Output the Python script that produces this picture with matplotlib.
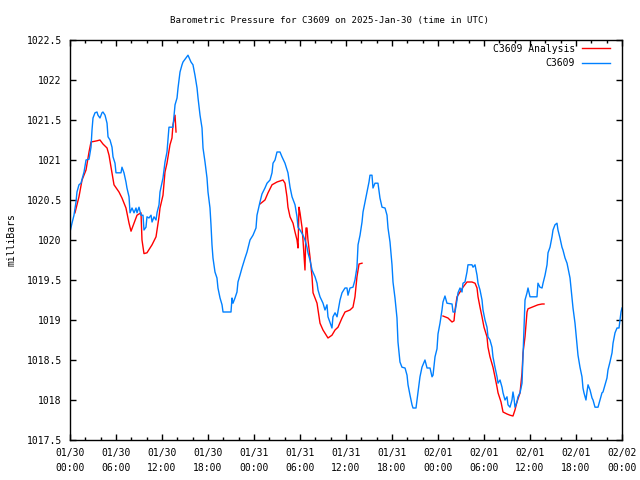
import matplotlib
matplotlib.use('Agg')
import matplotlib.pyplot as plt

# hours since 2025-01-30 00:00 UTC, pressure in mb
obs_hours = [0.0, 0.26, 0.52, 0.78, 0.91, 1.17, 1.43, 1.83, 2.09, 2.48, 2.74, 2.87, 3.0, 3.26, 3.52, 3.65,
             3.91, 4.17, 4.3, 4.57, 4.83, 4.96, 5.22, 5.48, 5.61, 5.87, 6.0, 6.65, 6.78, 7.04, 7.3, 7.43,
             7.7, 7.83, 8.09, 8.35, 8.61, 8.74, 9.0, 9.26, 9.52, 9.65, 9.91, 10.04, 10.3, 10.57, 10.7,
             10.96, 11.22, 11.35, 11.61, 11.74, 12.13, 12.39, 12.65, 12.91, 13.43, 13.7, 13.96, 14.09,
             14.35, 14.61, 14.74, 15.13, 15.39, 15.78, 16.04, 16.3, 16.57, 16.7, 16.96, 17.22, 17.35,
             17.61, 17.87, 18.0, 18.26, 18.39, 18.52, 18.65, 18.91, 19.17, 19.3, 19.57, 19.83, 19.96,
             21.0, 21.13, 21.26, 21.52, 21.78, 21.91, 22.17, 22.43, 22.83, 23.09, 23.48, 23.87, 24.26,
             24.39, 24.78, 25.04, 25.43, 25.7, 26.09, 26.35, 26.48, 26.74, 27.0, 27.39, 27.65, 28.04,
             28.43, 28.7, 28.96, 29.35, 29.61, 29.74, 30.0, 30.39, 30.65, 30.91, 31.04, 31.3, 31.57,
             31.96, 32.22, 32.35, 32.61, 33.0, 33.26, 33.52, 33.65, 34.17, 34.3, 34.57, 34.83, 35.22,
             35.48, 35.87, 36.13, 36.26, 36.52, 36.91, 37.17, 37.43, 37.57, 37.83, 38.09, 38.22, 38.48,
             38.74, 39.0, 39.13, 39.39, 39.52, 39.78, 40.17, 40.43, 40.7, 41.09, 41.35, 41.48, 41.74,
             42.0, 42.13, 42.39, 42.65, 42.78, 43.04, 43.3, 43.7, 43.96, 44.09, 44.35, 44.61, 44.74,
             45.13, 45.39, 45.65, 45.91, 46.3, 46.57, 46.96, 47.22, 47.35, 47.61, 47.87, 48.0, 48.26,
             48.52, 48.65, 48.91, 49.17, 49.83, 49.96, 50.22, 50.48, 50.61, 50.87, 51.13, 51.26, 51.52,
             51.78, 51.91, 52.43, 52.57, 52.83, 53.09, 53.22, 53.48, 53.74, 53.87, 54.13, 54.39, 54.52,
             54.78, 55.04, 55.17, 55.43, 55.7, 55.83, 56.09, 56.35, 56.48, 56.74, 57.0, 57.13, 57.39,
             57.65, 57.78, 57.91, 58.04, 58.3, 58.43, 58.7, 58.96, 59.09, 59.22, 59.35, 59.61, 59.74,
             60.0, 60.91, 61.04, 61.3, 61.57, 61.7, 61.96, 62.22, 62.35, 62.61, 62.87, 63.0, 63.26,
             63.52, 63.65, 63.91, 64.17, 64.3, 64.57, 64.83, 64.96, 65.22, 65.48, 65.61, 65.87, 66.13,
             66.26, 66.52, 66.78, 66.91, 67.04, 67.3, 67.43, 67.57, 67.83, 68.09, 68.22, 68.48, 68.87,
             69.13, 69.39, 69.52, 69.78, 70.04, 70.17, 70.43, 70.7, 70.83, 71.09, 71.35, 71.61, 71.74,
             71.87, 72.0]
obs_mb = [1020.1, 1020.21, 1020.31, 1020.475, 1020.6, 1020.69, 1020.71, 1020.85, 1021.0, 1021.01, 1021.16,
          1021.375, 1021.525, 1021.59, 1021.6, 1021.56, 1021.525, 1021.59, 1021.6, 1021.56, 1021.46,
          1021.29, 1021.25, 1021.16, 1021.04, 1020.96, 1020.84, 1020.84, 1020.91, 1020.84, 1020.725,
          1020.65, 1020.54, 1020.34, 1020.4, 1020.34, 1020.4, 1020.34, 1020.41, 1020.31, 1020.31,
          1020.125, 1020.16, 1020.29, 1020.275, 1020.31, 1020.225, 1020.29, 1020.25, 1020.34, 1020.44,
          1020.6, 1020.775, 1020.975, 1021.1, 1021.41, 1021.41, 1021.69, 1021.775, 1021.9, 1022.1,
          1022.19, 1022.225, 1022.275, 1022.31, 1022.225, 1022.19, 1022.06, 1021.9, 1021.775, 1021.56,
          1021.4, 1021.15, 1020.975, 1020.775, 1020.6, 1020.4, 1020.19, 1019.94, 1019.775, 1019.6,
          1019.525, 1019.4, 1019.275, 1019.19, 1019.1, 1019.1, 1019.275, 1019.21, 1019.275, 1019.35,
          1019.475, 1019.56, 1019.65, 1019.775, 1019.85, 1020.0, 1020.06, 1020.15, 1020.31, 1020.475,
          1020.575, 1020.65, 1020.71, 1020.75, 1020.84, 1020.96, 1021.0, 1021.1, 1021.1, 1021.04,
          1020.96, 1020.84, 1020.66, 1020.54, 1020.44, 1020.29, 1020.16, 1020.125, 1020.06, 1020.0,
          1019.91, 1019.84, 1019.75, 1019.625, 1019.54, 1019.46, 1019.375, 1019.29, 1019.21, 1019.125,
          1019.19, 1019.04, 1018.9, 1019.04, 1019.09, 1019.04, 1019.25, 1019.34, 1019.4, 1019.4,
          1019.31, 1019.4, 1019.41, 1019.5, 1019.66, 1019.94, 1020.06, 1020.225, 1020.35, 1020.475,
          1020.6, 1020.725, 1020.81, 1020.81, 1020.65, 1020.71, 1020.71, 1020.525, 1020.41, 1020.4,
          1020.31, 1020.15, 1019.975, 1019.69, 1019.475, 1019.275, 1019.025, 1018.725, 1018.475,
          1018.41, 1018.4, 1018.31, 1018.19, 1018.06, 1017.94, 1017.9, 1017.9, 1018.09, 1018.29,
          1018.41, 1018.5, 1018.4, 1018.4, 1018.29, 1018.31, 1018.54, 1018.64, 1018.825, 1018.96,
          1019.125, 1019.225, 1019.3, 1019.21, 1019.2, 1019.1, 1019.1, 1019.25, 1019.34, 1019.4,
          1019.35, 1019.46, 1019.475, 1019.6, 1019.69, 1019.69, 1019.66, 1019.69, 1019.56, 1019.46,
          1019.375, 1019.25, 1019.125, 1019.0, 1018.91, 1018.79, 1018.75, 1018.66, 1018.54, 1018.41,
          1018.29, 1018.21, 1018.25, 1018.16, 1018.09, 1018.0, 1018.04, 1017.94, 1017.91, 1018.0,
          1018.1, 1018.025, 1017.91, 1017.975, 1018.04, 1018.09, 1018.21, 1018.56, 1018.875, 1019.25,
          1019.34, 1019.4, 1019.29, 1019.29, 1019.46, 1019.41, 1019.4, 1019.46, 1019.56, 1019.69,
          1019.84, 1019.91, 1020.04, 1020.125, 1020.19, 1020.21, 1020.125, 1020.025, 1019.91, 1019.875,
          1019.775, 1019.71, 1019.65, 1019.525, 1019.275, 1019.15, 1018.96, 1018.69, 1018.56, 1018.41,
          1018.29, 1018.15, 1018.09, 1018.0, 1018.1, 1018.19, 1018.125, 1018.025, 1018.0, 1017.91,
          1017.91, 1018.0, 1018.09, 1018.1, 1018.19, 1018.275, 1018.375, 1018.475, 1018.59, 1018.71,
          1018.84, 1018.9, 1018.9, 1019.0, 1019.1, 1019.15]

# analysis runs (three separate segments)
ana1_hours = [0.65, 1.17, 1.57, 2.09, 2.48, 2.74, 3.52, 3.91, 4.3, 4.83, 5.09, 5.35, 5.74, 6.39, 6.78,
              7.3, 7.7, 7.96, 8.35, 8.74, 9.26, 9.39, 9.65, 10.04, 10.7, 11.22, 11.61, 11.74, 12.13,
              12.39, 12.65, 13.04, 13.3, 13.43, 13.7, 13.83]
ana1_mb = [1020.34, 1020.54, 1020.75, 1020.875, 1021.1, 1021.225, 1021.24, 1021.25, 1021.2, 1021.15,
           1021.06, 1020.91, 1020.69, 1020.6, 1020.525, 1020.4, 1020.21, 1020.11, 1020.21, 1020.31,
           1020.34, 1020.0, 1019.83, 1019.84, 1019.94, 1020.04, 1020.29, 1020.4, 1020.56, 1020.85,
           1020.96, 1021.19, 1021.275, 1021.44, 1021.56, 1021.35]
ana2_hours = [24.78, 25.43, 25.83, 26.35, 27.0, 27.78, 28.04, 28.3, 28.43, 28.7, 29.09, 29.35, 29.61,
              29.74, 29.87, 30.0, 30.26, 30.39, 30.65, 30.78, 30.91, 31.04, 31.3, 31.57, 31.7, 32.22,
              32.61, 33.0, 33.65, 34.17, 34.57, 34.96, 35.48, 35.87, 36.52, 36.91, 37.17, 37.43,
              37.7, 38.09]
ana2_mb = [1020.45, 1020.5, 1020.59, 1020.69, 1020.725, 1020.75, 1020.71, 1020.54, 1020.41, 1020.29,
           1020.21, 1020.1, 1020.0, 1019.9, 1020.41, 1020.34, 1020.16, 1020.0, 1019.625, 1020.15,
           1020.15, 1020.0, 1019.79, 1019.54, 1019.34, 1019.21, 1018.96, 1018.875, 1018.775, 1018.81,
           1018.875, 1018.91, 1019.025, 1019.1, 1019.125, 1019.16, 1019.29, 1019.54, 1019.7, 1019.71]
ana3_hours = [48.65, 49.3, 49.83, 50.09, 50.22, 50.48, 50.87, 51.26, 51.78, 52.43, 52.83, 53.09, 53.22,
              53.48, 53.74, 54.0, 54.39, 54.52, 54.78, 55.17, 55.43, 55.7, 55.83, 56.22, 56.48, 57.0,
              57.39, 57.78, 58.04, 58.3, 58.7, 58.96, 59.09, 59.35, 59.61, 59.74, 60.26, 60.65, 61.04,
              61.57, 61.83]
ana3_mb = [1019.05, 1019.025, 1018.975, 1018.99, 1019.125, 1019.29, 1019.35, 1019.41, 1019.475, 1019.475,
           1019.46, 1019.4, 1019.29, 1019.16, 1019.04, 1018.91, 1018.79, 1018.66, 1018.54, 1018.41,
           1018.29, 1018.16, 1018.09, 1017.975, 1017.85, 1017.825, 1017.81, 1017.8, 1017.875, 1017.975,
           1018.09, 1018.34, 1018.59, 1018.79, 1019.1, 1019.14, 1019.16, 1019.175, 1019.19, 1019.2, 1019.2]

tick_hours = [0, 6, 12, 18, 24, 30, 36, 42, 48, 54, 60, 66, 72]
tick_labels = ['01/30\n00:00', '01/30\n06:00', '01/30\n12:00', '01/30\n18:00',
               '01/31\n00:00', '01/31\n06:00', '01/31\n12:00', '01/31\n18:00',
               '02/01\n00:00', '02/01\n06:00', '02/01\n12:00', '02/01\n18:00',
               '02/02\n00:00']
y_ticks = [1017.5, 1018, 1018.5, 1019, 1019.5, 1020, 1020.5, 1021, 1021.5, 1022, 1022.5]
y_labels = ['1017.5', '1018', '1018.5', '1019', '1019.5', '1020', '1020.5', '1021', '1021.5', '1022', '1022.5']

plt.rcParams['font.family'] = 'DejaVu Sans Mono'
plt.rcParams['font.size'] = 7

fig = plt.figure(figsize=(6.4, 4.8), dpi=100)
ax = fig.add_axes([70 / 640, 40 / 480, 552 / 640, 400 / 480])

red = '#ff0000'
blue = '#0080ff'
ax.plot(ana1_hours, ana1_mb, color=red, lw=1.0, label='C3609 Analysis')
ax.plot(ana2_hours, ana2_mb, color=red, lw=1.0)
ax.plot(ana3_hours, ana3_mb, color=red, lw=1.0)
ax.plot(obs_hours, obs_mb, color=blue, lw=1.0, label='C3609')

ax.set_xlim(0, 72)
ax.set_ylim(1017.5, 1022.5)
ax.set_xticks(tick_hours)
ax.set_xticklabels(tick_labels, linespacing=1.6)
ax.set_xticks(range(0, 73, 2), minor=True)
ax.set_yticks(y_ticks)
ax.set_yticklabels(y_labels)
ax.tick_params(which='both', direction='in', top=True, right=True, width=1.0)
ax.tick_params(which='major', length=4, pad=6)
ax.tick_params(which='minor', length=2)
for s in ax.spines.values():
    s.set_linewidth(1.0)

ax.set_ylabel('milliBars', labelpad=7)
fig.text(330 / 640, 1 - 20 / 480, 'Barometric Pressure for C3609 on 2025-Jan-30 (time in UTC)',
         fontsize=6.6, ha='center', va='center')
ax.legend(loc='upper right', bbox_to_anchor=(1 - 8 / 552, 1.0), frameon=False, markerfirst=False,
          handlelength=2.9, handletextpad=0.7, borderaxespad=0, borderpad=0.4, labelspacing=0.45)

fig.savefig('out.png', dpi=100)
